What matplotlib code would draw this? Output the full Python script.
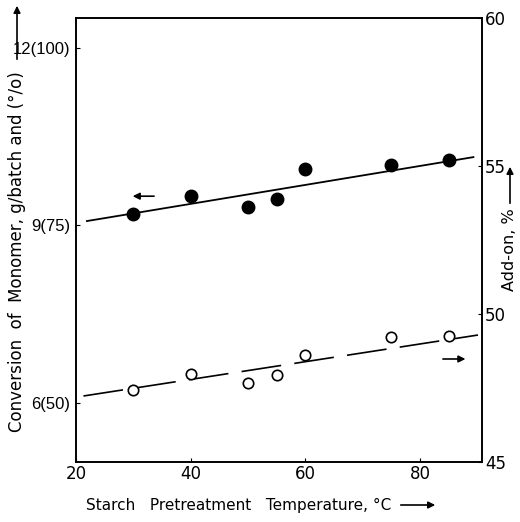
import matplotlib
matplotlib.use("Agg")
import matplotlib.pyplot as plt
from matplotlib.patches import FancyArrowPatch

# starch pretreatment temperature, deg C
temps = [30, 40, 50, 55, 60, 75, 85]
# conversion of monomer, g/batch (left axis)
conversion = [9.19, 9.50, 9.31, 9.44, 9.95, 10.02, 10.10]
# add-on, % (right axis)
addon = [47.43, 47.97, 47.67, 47.93, 48.61, 49.21, 49.25]

# fitted lines, end points
fit_x_conv = [21.9, 89.3]
fit_y_conv = [9.07, 10.15]
fit_x_add = [21.3, 90.1]
fit_y_add = [47.23, 49.29]

x_ticks = [20, 40, 60, 80]
left_ticks = [6, 9, 12]
left_labels = ["6(50)", "9(75)", "12(100)"]
right_ticks = [45, 50, 55, 60]

plt.rcParams["font.family"] = ["DejaVu Sans"]

fig = plt.figure(figsize=(5.2, 5.22), dpi=100)
ax = fig.add_axes([76 / 520, 60 / 522, 406 / 520, 444 / 522])
ax2 = ax.twinx()

# conversion: filled circles + solid line
ax.plot(fit_x_conv, fit_y_conv, color="black", lw=1.3)
ax.plot(temps, conversion, "o", color="black", ms=9)

# add-on: open circles + dashed line
ax2.plot(fit_x_add, fit_y_add, color="black", lw=1.2, dashes=(24, 8))
ax2.plot(temps, addon, "o", mfc="white", mec="black", mew=1.2, ms=7.5)

ax.set_xlim(20, 90.8)
ax.set_ylim(5, 12.5)
ax2.set_ylim(45, 60)

ax.set_xticks(x_ticks)
ax.set_yticks(left_ticks)
ax.set_yticklabels(left_labels, family=["Liberation Sans", "DejaVu Sans"])
ax2.set_yticks(right_ticks)

ax.tick_params(axis="x", direction="in", length=3, labelsize=12, pad=2)
ax.tick_params(axis="y", direction="in", length=3, labelsize=12, pad=4)
ax2.tick_params(axis="y", direction="in", length=3, labelsize=12, pad=2)

for a in (ax, ax2):
    for s in a.spines.values():
        s.set_linewidth(1.2)

# arrows telling which axis each series belongs to
ax.annotate("", xy=(29.4, 9.49), xytext=(34.1, 9.49),
            arrowprops=dict(arrowstyle="-|>", color="black", lw=1.2, mutation_scale=10))
ax2.annotate("", xy=(88.4, 48.48), xytext=(83.5, 48.48),
             arrowprops=dict(arrowstyle="-|>", color="black", lw=1.2, mutation_scale=10))

# axis titles with their arrows
fig.text(17 / 520, 1 - 252 / 522, "Conversion  of  Monomer, g/batch and (°/o)",
         rotation=90, ha="center", va="center", fontsize=12)
fig.add_artist(FancyArrowPatch((17 / 520, 1 - 62 / 522), (17 / 520, 1 - 3 / 522),
                               transform=fig.transFigure, arrowstyle="-|>",
                               mutation_scale=10, color="black", lw=1.2))

fig.text(510 / 520, 1 - 250 / 522, "Add-on, %", rotation=90,
         ha="center", va="center", fontsize=11.5)
fig.add_artist(FancyArrowPatch((510 / 520, 1 - 206 / 522), (510 / 520, 1 - 164 / 522),
                               transform=fig.transFigure, arrowstyle="-|>",
                               mutation_scale=10, color="black", lw=1.2))

fig.text(239 / 520, 1 - 505 / 522, "Starch   Pretreatment   Temperature, °C",
         ha="center", va="center", fontsize=11)
fig.add_artist(FancyArrowPatch((398 / 520, 1 - 505 / 522), (438 / 520, 1 - 505 / 522),
                               transform=fig.transFigure, arrowstyle="-|>",
                               mutation_scale=10, color="black", lw=1.2))

fig.savefig("out.png", dpi=100)
